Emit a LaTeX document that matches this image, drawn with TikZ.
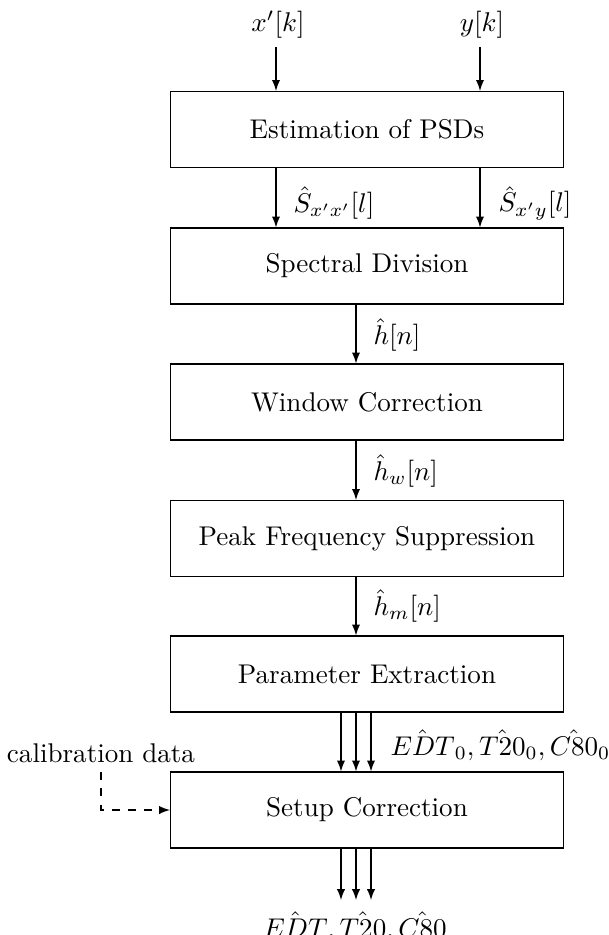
\documentclass[tikz,border=0pt]{standalone}
\usetikzlibrary{arrows}
\begin{document}
\begin{tikzpicture}[x=0.3695pt,y=-0.3695pt,>=latex,
  block/.style={draw, minimum width=145.2pt, minimum height=28.1pt, inner sep=0pt},
  sig/.style={->},
  lbl/.style={anchor=west}]
\useasboundingbox (0,0) rectangle (609,935);

% processing chain
\node[block] (psd)   at (367,129.5) {Estimation of PSDs};
\node[block] (spec)  at (367,266)   {Spectral Division};
\node[block] (win)   at (367,402)   {Window Correction};
\node[block] (peak)  at (367,538.5) {Peak Frequency Suppression};
\node[block] (param) at (367,674)   {Parameter Extraction};
\node[block] (setup) at (367,810)   {Setup Correction};

% inputs
\node (xin) at (278,25) {$x'[k]$};
\node (yin) at (482,25) {$y[k]$};
\coordinate (xs) at (276,47);
\coordinate (ys) at (480,47);
\draw[sig] (xs) -- (xs |- psd.north);
\draw[sig] (ys) -- (ys |- psd.north);

% PSD estimates
\draw[sig] (psd.south -| xs) -- (spec.north -| xs);
\draw[sig] (psd.south -| ys) -- (spec.north -| ys);
\node[lbl] (sxx) at (284,203) {$\hat{S}_{x'x'}[l]$};
\node[lbl] (sxy) at (489,203) {$\hat{S}_{x'y}[l]$};

% impulse responses
\coordinate (mid) at (356,0);
\draw[sig] (spec.south -| mid) -- (win.north -| mid);
\node[lbl] (h) at (364,335) {$\hat{h}[n]$};
\draw[sig] (win.south -| mid) -- (peak.north -| mid);
\node[lbl] (hw) at (364,471) {$\hat{h}_w[n]$};
\draw[sig] (peak.south -| mid) -- (param.north -| mid);
\node[lbl] (hm) at (364,606) {$\hat{h}_m[n]$};

% raw parameters
\coordinate (pl) at (341,0);
\coordinate (pr) at (371,0);
\foreach \c in {pl,mid,pr}
  \draw[sig] (param.south -| \c) -- (setup.north -| \c);
\node[lbl] (raw) at (381,745) {$\hat{EDT}_0, \hat{T20}_0, \hat{C80}_0$};

% calibration input
\node (cal) at (101,753) {calibration data};
\draw[sig,dashed] (cal.south) |- (setup.west);

% corrected parameters
\coordinate (out) at (356,900);
\foreach \c in {pl,mid,pr}
  \draw[sig] (setup.south -| \c) -- (out -| \c);
\node[anchor=base] (res) at (355,937) {$\hat{EDT}, \hat{T20}, \hat{C80}$};
\end{tikzpicture}
\end{document}
